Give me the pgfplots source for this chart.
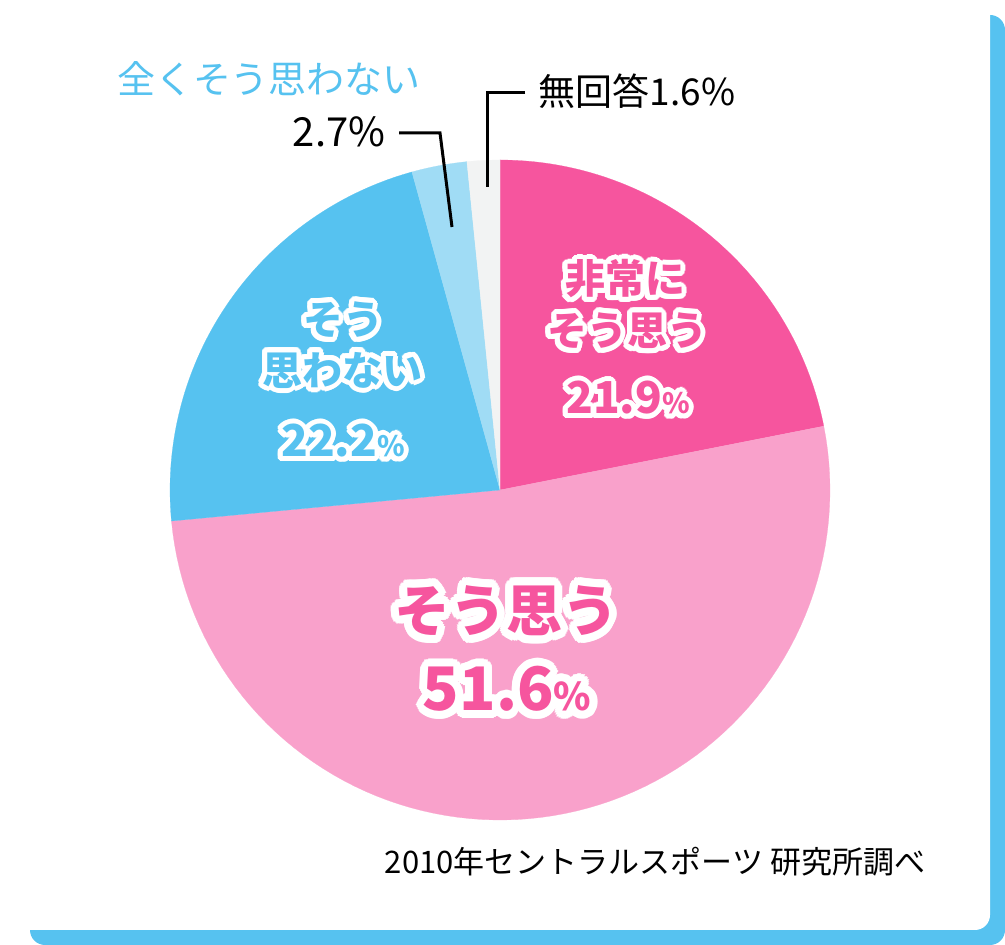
\documentclass[border=0pt]{standalone}
\usepackage{pgfplots}
\pgfplotsset{compat=1.18}
\usepackage{fontspec}
\setmainfont{Noto Sans CJK JP}
\definecolor{pinkD}{HTML}{F6559E}
\definecolor{pinkL}{HTML}{F9A1CB}
\definecolor{blueD}{HTML}{56C2F0}
\definecolor{blueL}{HTML}{A0DCF5}
\definecolor{grayL}{HTML}{F2F3F3}
\newcommand\fs[1]{\fontsize{#1}{#1}\selectfont}
\newcommand\oltext[5]{%
  \foreach \a in {0,15,...,345}{\node[inner sep=0pt,text=white] at ({#1+#3*cos(\a)},{#2+#3*sin(\a)}) {#5};}
  \node[inner sep=0pt,text=#4] at (#1,#2) {#5};%
}
\begin{document}
\begin{tikzpicture}[x=1pt,y=1pt]
\path[use as bounding box, clip] (0,0) rectangle (1005,945);
\fill[white] (0,0) rectangle (1005,945);
% card shadow and card
\fill[blueD, rounded corners=15pt] (30,0) rectangle (1005,930);
\fill[white, rounded corners=15pt] (-30,15) rectangle (990,990);
% slice boundary angles (start at 12 o'clock, clockwise)
\pgfmathsetmacro\aA{90}
\pgfmathsetmacro\aB{\aA-3.6*21.9}
\pgfmathsetmacro\aC{\aB-3.6*51.6}
\pgfmathsetmacro\aD{\aC-3.6*22.2}
\pgfmathsetmacro\aE{\aD-3.6*2.7}
\pgfmathsetmacro\aF{\aE-3.6*1.6}
\begin{axis}[
  at={(0pt,0pt)}, anchor=origin,
  x=1pt, y=1pt, xmin=0, xmax=1005, ymin=0, ymax=945,
  hide axis, clip=false, samples=90]
\addplot[fill=pinkD, draw=pinkD, line width=0.2pt, domain=\aB:\aA] ({500+330*cos(x)},{455+330*sin(x)}) -- (500,455) -- cycle;
\addplot[fill=pinkL, draw=pinkL, line width=0.2pt, domain=\aC:\aB] ({500+330*cos(x)},{455+330*sin(x)}) -- (500,455) -- cycle;
\addplot[fill=blueD, draw=blueD, line width=0.2pt, domain=\aD:\aC] ({500+330*cos(x)},{455+330*sin(x)}) -- (500,455) -- cycle;
\addplot[fill=blueL, draw=blueL, line width=0.2pt, domain=\aE:\aD, samples=20] ({500+330*cos(x)},{455+330*sin(x)}) -- (500,455) -- cycle;
\addplot[fill=grayL, draw=grayL, line width=0.2pt, domain=\aF:\aE, samples=20] ({500+330*cos(x)},{455+330*sin(x)}) -- (500,455) -- cycle;
% leader lines
\addplot[black, line width=3pt, mark=none] coordinates {(399,812) (440,812) (452,718)};
\addplot[black, line width=3pt, mark=none] coordinates {(525,852) (487,852) (487,758)};
\end{axis}
% outside labels
\node[inner sep=0pt, text=blueD] at (269,866) {\fs{38}全くそう思わない};
\node[inner sep=0pt] at (339,813) {\fs{40}2.7\%};
\node[inner sep=0pt] at (637,854) {\fs{37}無回答1.6\%};
\node[inner sep=0pt] at (655,83) {\fs{31}2010年セントラルスポーツ 研究所調べ};
% inner labels
\oltext{625}{666}{5}{pinkD}{\fs{40}\bfseries 非常に}
\oltext{627}{614}{5}{pinkD}{\fs{40}\bfseries そう思う}
\oltext{628}{547}{5}{pinkD}{\fs{44}\bfseries 21.9{\fs{28}\%}}
\oltext{343}{625}{5}{blueD}{\fs{40}\bfseries そう}
\oltext{342}{575}{5}{blueD}{\fs{40}\bfseries 思わない}
\oltext{343}{504}{5}{blueD}{\fs{44}\bfseries 22.2{\fs{28}\%}}
\oltext{506}{334}{8}{pinkD}{\fs{56}\bfseries そう思う}
\oltext{507}{256}{8}{pinkD}{\fs{60}\bfseries 51.6{\fs{38}\%}}
\end{tikzpicture}
\end{document}
